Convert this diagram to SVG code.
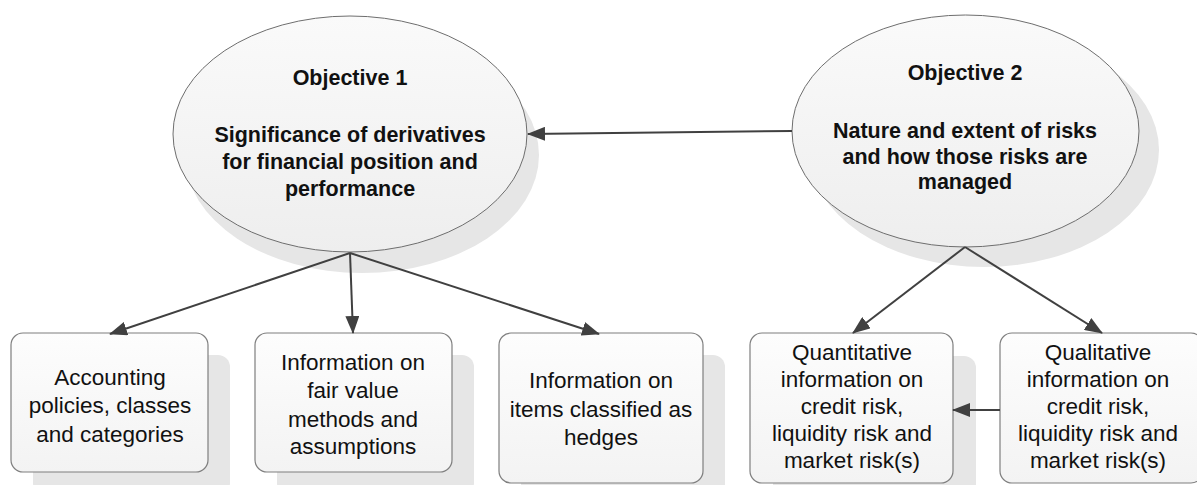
<svg xmlns="http://www.w3.org/2000/svg" width="1197" height="485" viewBox="0 0 1197 485">
<style>
.ell{fill:url(#gE);stroke:#6e6e6e;stroke-width:1}
.box{fill:url(#gB);stroke:#7f7f7f;stroke-width:1.2}
.sh{fill:#e6e6e6}
.bt{font-family:"Liberation Sans",Arial,sans-serif;font-size:21.5px;font-weight:bold;fill:#111;text-anchor:middle}
.t{font-family:"Liberation Sans",Arial,sans-serif;font-size:22.5px;fill:#111;text-anchor:middle}
.c{stroke:#404040;stroke-width:2;fill:none;marker-end:url(#ah)}
</style>
<defs>
<linearGradient id="gE" x1="0" y1="0" x2="0" y2="1"><stop offset="0" stop-color="#fafafa"/><stop offset="1" stop-color="#eeeeee"/></linearGradient>
<linearGradient id="gB" x1="0" y1="0" x2="0" y2="1"><stop offset="0" stop-color="#fdfdfd"/><stop offset="1" stop-color="#f3f3f3"/></linearGradient>
<marker id="ah" markerUnits="userSpaceOnUse" markerWidth="18" markerHeight="14" viewBox="0 0 18 14" refX="17" refY="7" orient="auto"><path d="M0,0 L18,7 L0,14 Z" fill="#404040"/></marker>
</defs>
<rect width="1197" height="485" fill="#ffffff"/>
<g id="obj1">
<ellipse class="sh" cx="362" cy="155" rx="177" ry="118"/>
<ellipse class="ell" cx="350" cy="134" rx="177" ry="118"/>
<text class="bt" x="350" y="85">Objective 1</text>
<text class="bt" x="350" y="142">Significance of derivatives</text>
<text class="bt" x="350" y="169">for financial position and</text>
<text class="bt" x="350" y="196">performance</text>
</g>
<g id="obj2">
<ellipse class="sh" cx="984" cy="150" rx="175" ry="117"/>
<ellipse class="ell" cx="965.5" cy="131" rx="173.5" ry="116"/>
<text class="bt" x="965" y="80">Objective 2</text>
<text class="bt" x="965" y="138">Nature and extent of risks</text>
<text class="bt" x="965" y="164">and how those risks are</text>
<text class="bt" x="965" y="189">managed</text>
</g>
<g id="box1">
<rect class="sh" x="33" y="355" width="197" height="140" rx="12"/>
<rect class="box" x="11" y="333" width="197" height="139" rx="12"/>
<text class="t" x="110" y="385">Accounting</text>
<text class="t" x="110" y="413">policies, classes</text>
<text class="t" x="110" y="442">and categories</text>
</g>
<g id="box2">
<rect class="sh" x="277" y="355" width="197" height="140" rx="12"/>
<rect class="box" x="255" y="333" width="197" height="139" rx="12"/>
<text class="t" x="353" y="370">Information on</text>
<text class="t" x="353" y="398">fair value</text>
<text class="t" x="353" y="427">methods and</text>
<text class="t" x="353" y="454">assumptions</text>
</g>
<g id="box3">
<rect class="sh" x="521" y="355" width="204" height="150" rx="12"/>
<rect class="box" x="499" y="333" width="204" height="150" rx="12"/>
<text class="t" x="601" y="388">Information on</text>
<text class="t" x="601" y="417">items classified as</text>
<text class="t" x="601" y="445">hedges</text>
</g>
<g id="box4">
<rect class="sh" x="773" y="356" width="203" height="150" rx="12"/>
<rect class="box" x="750" y="333" width="203" height="150" rx="12"/>
<text class="t" x="852" y="360">Quantitative</text>
<text class="t" x="852" y="387">information on</text>
<text class="t" x="852" y="414">credit risk,</text>
<text class="t" x="852" y="441">liquidity risk and</text>
<text class="t" x="852" y="468">market risk(s)</text>
</g>
<g id="box5">
<rect class="box" x="1000" y="333" width="203" height="150" rx="12"/>
<text class="t" x="1098" y="360">Qualitative</text>
<text class="t" x="1098" y="387">information on</text>
<text class="t" x="1098" y="414">credit risk,</text>
<text class="t" x="1098" y="441">liquidity risk and</text>
<text class="t" x="1098" y="468">market risk(s)</text>
</g>
<g id="connectors">
<line class="c" x1="792" y1="131" x2="528" y2="134"/>
<line class="c" x1="350" y1="253" x2="110" y2="334"/>
<line class="c" x1="350" y1="253" x2="353" y2="333"/>
<line class="c" x1="350" y1="253" x2="599" y2="334"/>
<line class="c" x1="965" y1="247" x2="853" y2="333"/>
<line class="c" x1="965" y1="247" x2="1102" y2="333"/>
<line class="c" x1="1000" y1="410" x2="953" y2="410"/>
</g>
</svg>
